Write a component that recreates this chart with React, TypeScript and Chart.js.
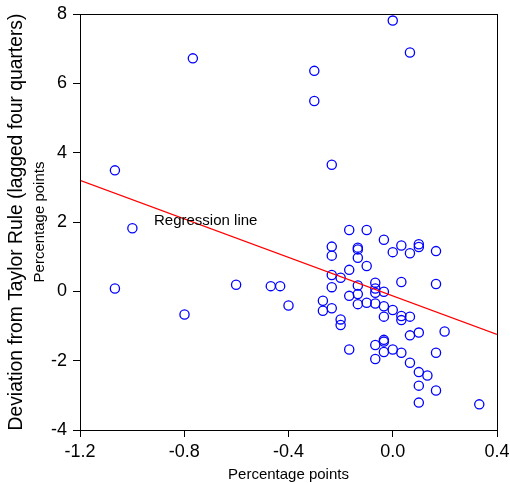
import React, { useEffect, useRef } from "react";
import { Chart, registerables } from "chart.js";

Chart.register(...registerables);

// Scatter data: x = percentage points, y = deviation from Taylor Rule
const xValues: number[] = [
  -1.066, -1.066, -0.999, -0.767, -0.799, -0.601, -0.468, -0.432, -0.4,
  -0.301, -0.301, -0.268, -0.268,
  -0.234, -0.234, -0.234, -0.234, -0.234, -0.234,
  -0.2, -0.2, -0.2,
  -0.167, -0.167, -0.167, -0.167,
  -0.134, -0.134, -0.134, -0.134, -0.134, -0.134,
  -0.1, -0.1, -0.1,
  -0.067, -0.067, -0.067, -0.067, -0.067, -0.067,
  -0.034, -0.034, -0.034, -0.034, -0.034, -0.034, -0.034,
  0.0, 0.0, 0.0, 0.0,
  0.033, 0.033, 0.033, 0.033, 0.033,
  0.066, 0.066, 0.066, 0.066, 0.066,
  0.1, 0.1, 0.1, 0.1, 0.1, 0.1,
  0.133,
  0.166, 0.166, 0.166, 0.166,
  0.199,
  0.332,
];
const yValues: number[] = [
  3.49, 0.08, 1.82, 6.72, -0.67, 0.19, 0.15, 0.15, -0.41,
  6.36, 5.49, -0.27, -0.56,
  3.65, 1.29, 1.03, 0.47, 0.12, -0.49,
  0.39, -0.81, -0.97,
  1.77, 0.62, -0.13, -1.68,
  1.26, 1.21, 0.97, 0.17, -0.08, -0.37,
  1.77, 0.73, -0.33,
  0.25, 0.08, -0.04, -0.35, -1.55, -1.95,
  1.49, -0.01, -0.43, -0.73, -1.40, -1.45, -1.75,
  7.81, 1.13, -0.54, -1.68,
  1.32, 0.27, -0.71, -0.83, -1.77,
  6.89, 1.10, -0.73, -1.27, -2.06,
  1.36, 1.28, -1.19, -2.33, -2.72, -3.21,
  -2.43,
  1.16, 0.21, -1.77, -2.86,
  -1.16,
  -3.26,
];

// Regression line end points
const regressionX: number[] = [-1.2, 0.4];
const regressionY: number[] = [3.2, -1.24];
const regressionLabel = "Regression line";
const regressionLabelAt = { x: -0.916, y: 2.04 };

const xTitle = "Percentage points";
const yTitle = "Deviation from Taylor Rule (lagged four quarters)";
const ySubTitle = "Percentage points";

const FONT = "'Liberation Sans', Arial, Helvetica, sans-serif";

export default function App() {
  const canvasRef = useRef<HTMLCanvasElement | null>(null);

  useEffect(() => {
    if (!canvasRef.current) return;

    const scatterData = xValues.map((x, i) => ({ x, y: yValues[i] }));
    const lineData = regressionX.map((x, i) => ({ x, y: regressionY[i] }));

    const decorPlugin = {
      id: "decor",
      afterDraw(chart: any) {
        const ctx = chart.ctx as CanvasRenderingContext2D;
        const { left, right, top, bottom } = chart.chartArea;
        ctx.save();
        // Box
        ctx.strokeStyle = "#000";
        ctx.lineWidth = 1;
        ctx.strokeRect(Math.round(left) + 0.5, Math.round(top) + 0.5, Math.round(right - left), Math.round(bottom - top));
        // Regression label
        const xs = chart.scales.x;
        const ys = chart.scales.y;
        ctx.fillStyle = "#000";
        ctx.font = `15px ${FONT}`;
        ctx.textAlign = "left";
        ctx.textBaseline = "middle";
        ctx.fillText(regressionLabel, xs.getPixelForValue(regressionLabelAt.x), ys.getPixelForValue(regressionLabelAt.y));
        // X title
        ctx.textAlign = "center";
        ctx.fillText(xTitle, (left + right) / 2, 475);
        // Y titles
        const cy = (top + bottom) / 2;
        ctx.save();
        ctx.translate(40, cy);
        ctx.rotate(-Math.PI / 2);
        ctx.font = `15px ${FONT}`;
        ctx.fillText(ySubTitle, 0, 0);
        ctx.restore();
        ctx.save();
        ctx.translate(17, cy);
        ctx.rotate(-Math.PI / 2);
        ctx.font = `19.3px ${FONT}`;
        ctx.fillText(yTitle, 0, 0);
        ctx.restore();
        ctx.restore();
      },
    };

    const chart = new Chart(canvasRef.current, {
      type: "scatter",
      data: {
        datasets: [
          {
            type: "line",
            data: lineData,
            borderColor: "#ff0000",
            borderWidth: 1.2,
            pointRadius: 0,
            fill: false,
          } as any,
          {
            type: "scatter",
            data: scatterData,
            borderColor: "#0000ff",
            backgroundColor: "rgba(0,0,0,0)",
            borderWidth: 1.3,
            pointRadius: 4.6,
            pointHoverRadius: 4.6,
          },
        ],
      },
      options: {
        responsive: false,
        animation: false,
        events: [],
        layout: { padding: { top: 14, right: 13, left: 0, bottom: 0 } },
        plugins: {
          legend: { display: false },
          tooltip: { enabled: false },
          title: { display: false },
        },
        scales: {
          x: {
            type: "linear",
            min: -1.2,
            max: 0.4,
            afterFit: (s: any) => {
              s.height = 53;
              s.paddingLeft = 0;
              s.paddingRight = 0;
            },
            ticks: {
              stepSize: 0.4,
              color: "#000",
              font: { size: 18, family: FONT },
              padding: 4,
              maxRotation: 0,
              callback: (v: any) => {
                const n = Number(v);
                return Math.abs(n) < 1e-9 ? "0.0" : n.toFixed(1);
              },
            },
            grid: {
              display: true,
              drawOnChartArea: false,
              drawTicks: true,
              tickLength: 7,
              color: "#000",
              tickColor: "#000",
            },
            border: { display: true, color: "#000", width: 1 },
          },
          y: {
            type: "linear",
            min: -4,
            max: 8,
            afterFit: (s: any) => {
              s.width = 80;
              s.paddingTop = 0;
              s.paddingBottom = 0;
            },
            ticks: {
              stepSize: 2,
              color: "#000",
              font: { size: 18, family: FONT },
              padding: 6,
              callback: (v: any) => String(Math.round(Number(v))),
            },
            grid: {
              display: true,
              drawOnChartArea: false,
              drawTicks: true,
              tickLength: 7,
              color: "#000",
              tickColor: "#000",
            },
            border: { display: true, color: "#000", width: 1 },
          },
        },
      },
      plugins: [decorPlugin],
    });

    return () => {
      chart.destroy();
    };
  }, []);

  return (
    <div style={{ position: "absolute", left: 0, top: 0, width: 510, height: 483, background: "#fff" }}>
      <canvas ref={canvasRef} width={510} height={483} />
    </div>
  );
}
